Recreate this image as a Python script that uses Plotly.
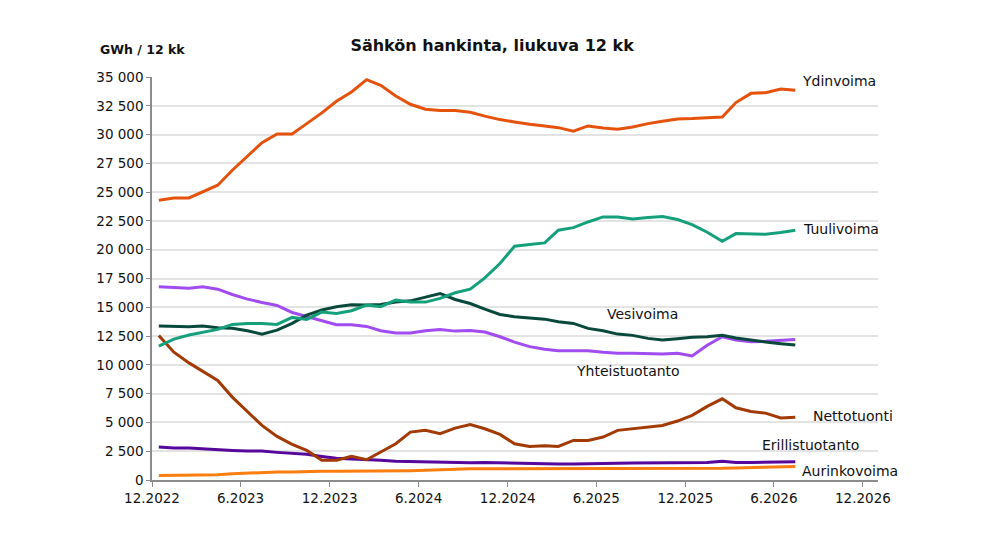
import pandas as pd
import plotly.graph_objects as go

# ==================== Data (GWh, rolling 12 months) ====================
# monthly points 12.2022 ... 7.2026, plotted mid-month
months = pd.date_range("2022-12-01", periods=44, freq="MS") + pd.Timedelta(days=14)

ydinvoima = [24300, 24500, 24500, 25050, 25600, 26900, 28100, 29300, 30050, 30050,
             30950, 31880, 32890, 33700, 34770, 34280, 33350, 32630, 32200, 32100,
             32100, 31930, 31600, 31300, 31100, 30890, 30750, 30600, 30290, 30750,
             30580, 30460, 30660, 30950, 31150, 31360, 31390, 31480, 31530, 32780,
             33580, 33640, 33960, 33840]
tuulivoima = [11630, 12240, 12590, 12820, 13080, 13510, 13600, 13600, 13510, 14120,
              13950, 14580, 14470, 14700, 15190, 15050, 15620, 15450, 15450, 15770,
              16260, 16580, 17550, 18800, 20300, 20450, 20590, 21690, 21920, 22410,
              22850, 22850, 22670, 22790, 22880, 22620, 22180, 21520, 20740, 21400,
              21340, 21340, 21490, 21690]
vesivoima = [13370, 13310, 13310, 13370, 13220, 13170, 12960, 12670, 13020, 13600,
             14320, 14760, 15040, 15220, 15190, 15250, 15450, 15560, 15910, 16200,
             15680, 15330, 14840, 14380, 14180, 14090, 13970, 13740, 13600, 13170,
             12960, 12670, 12560, 12300, 12150, 12270, 12390, 12440, 12560, 12330,
             12120, 11980, 11840, 11720]
yhteistuotanto = [16780, 16720, 16660, 16780, 16570, 16110, 15710, 15420, 15160, 14550,
                  14180, 13800, 13480, 13480, 13340, 12960, 12760, 12760, 12960, 13080,
                  12930, 12990, 12850, 12440, 11980, 11580, 11350, 11230, 11230, 11230,
                  11090, 11000, 11000, 10940, 10940, 11000, 10770, 11700, 12440, 12150,
                  12010, 12040, 12150, 12210]
nettotuonti = [12540, 11100, 10170, 9450, 8640, 7200, 5950, 4740, 3790, 3090,
               2570, 1710, 1710, 2050, 1760, 2430, 3150, 4160, 4310, 4020,
               4510, 4820, 4450, 3960, 3150, 2920, 2980, 2920, 3440, 3440,
               3730, 4310, 4450, 4650, 4740, 5120, 5610, 6390, 7050, 6270,
               5950, 5810, 5380, 5460]
erillistuotanto = [2860, 2770, 2770, 2690, 2630, 2570, 2510, 2510, 2400, 2310,
                   2230, 2050, 1880, 1820, 1790, 1710, 1620, 1590, 1590, 1590,
                   1530, 1500, 1530, 1500, 1450, 1390, 1390, 1390, 1390, 1390,
                   1390, 1450, 1470, 1470, 1470, 1470, 1470, 1530, 1620, 1530,
                   1530, 1530, 1590, 1590]
aurinkovoima = [400, 400, 400, 400, 460, 550, 610, 610, 690, 690,
                750, 750, 750, 750, 750, 750, 780, 810, 840, 900,
                900, 970, 970, 970, 970, 970, 970, 970, 970, 970,
                970, 970, 970, 970, 970, 970, 970, 970, 1010, 1040,
                1070, 1100, 1130, 1180]

tick_vals = ["2022-12-01", "2023-06-01", "2023-12-01", "2024-06-01", "2024-12-01",
             "2025-06-01", "2025-12-01", "2026-06-01", "2026-12-01"]
tick_text = ["12.2022", "6.2023", "12.2023", "6.2024", "12.2024",
             "6.2025", "12.2025", "6.2026", "12.2026"]

# ==================== Plot Line Chart ====================
series = [
    ("Aurinkovoima", aurinkovoima, "#FA7D0F"),
    ("Erillistuotanto", erillistuotanto, "#56079C"),
    ("Nettotuonti", nettotuonti, "#A23A05"),
    ("Yhteistuotanto", yhteistuotanto, "#A04CF0"),
    ("Vesivoima", vesivoima, "#08493B"),
    ("Tuulivoima", tuulivoima, "#15A07B"),
    ("Ydinvoima", ydinvoima, "#E5520C"),
]

fig = go.Figure()
for name, vals, color in series:
    fig.add_trace(go.Scatter(
        x=months,
        y=vals,
        mode='lines',
        name=name,
        line=dict(color=color, width=3),
    ))

# line labels (x in paper coords, y in data units)
labels = [
    ("Ydinvoima", 0.892, 34650),
    ("Tuulivoima", 0.894, 21780),
    ("Vesivoima", 0.624, 14400),
    ("Yhteistuotanto", 0.581, 9460),
    ("Nettotuonti", 0.908, 5550),
    ("Erillistuotanto", 0.838, 3040),
    ("Aurinkovoima", 0.892, 780),
]
for text, lx, ly in labels:
    fig.add_annotation(x=lx, y=ly, xref='paper', yref='y', text=text,
                       showarrow=False, xanchor='left', yanchor='middle',
                       font=dict(size=14, color='#111111'))

fig.add_annotation(x=-0.074, y=1.069, xref='paper', yref='paper',
                   text='<b>GWh / 12 kk</b>', showarrow=False,
                   xanchor='left', yanchor='middle',
                   font=dict(size=12.5, color='#111111'))

# ==================== Layout Settings ====================
# page body has an 8px margin, so the figure is 8px smaller and margins shifted
fig.update_layout(
    width=992,
    height=531,
    title=dict(text='<b>Sähkön hankinta, liukuva 12 kk</b>', x=0.488, xanchor='center',
               y=0.930, yanchor='middle', font=dict(size=16, color='#111111')),
    font=dict(family='DejaVu Sans, Verdana, sans-serif', size=13.5, color='#111111'),
    template='plotly_white',
    plot_bgcolor='white',
    paper_bgcolor='white',
    showlegend=False,
    separators=', ',
    margin=dict(l=144, r=122, t=69, b=59),
    xaxis=dict(
        range=["2022-12-01", "2027-01-01"],
        tickvals=tick_vals,
        ticktext=tick_text,
        showgrid=False,
        showline=True,
        linecolor='#8c8c8c',
        linewidth=1.5,
        ticks='outside',
        ticklen=5,
        tickcolor='#8c8c8c',
        zeroline=False,
    ),
    yaxis=dict(
        range=[0, 35000],
        dtick=2500,
        tickformat=',d',
        showgrid=True,
        gridcolor='#e3e3e3',
        gridwidth=1.5,
        showline=True,
        linecolor='#8c8c8c',
        linewidth=1.5,
        ticks='outside',
        ticklen=4,
        tickcolor='#8c8c8c',
        zeroline=False,
    ),
)

fig.write_html("out.html")
